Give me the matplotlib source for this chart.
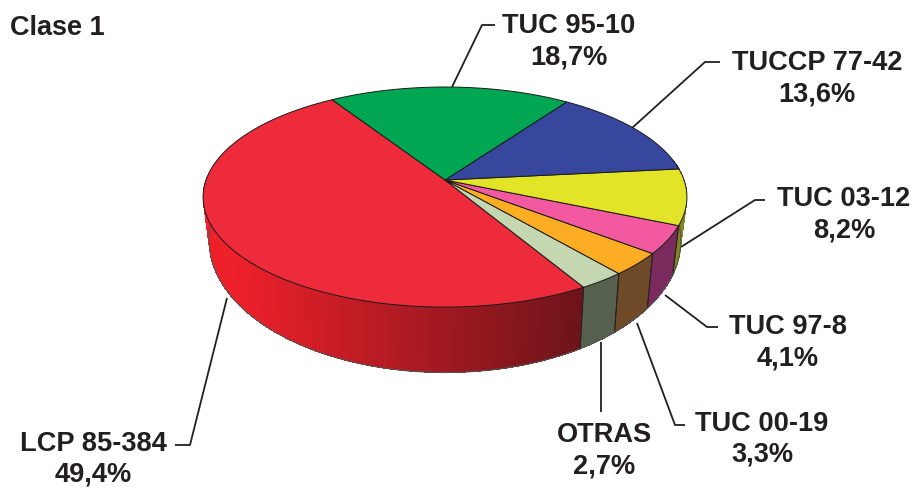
import numpy as np
import matplotlib
matplotlib.use("Agg")
import matplotlib.pyplot as plt
from matplotlib.patches import Polygon

plt.rcParams['font.family'] = ['Liberation Sans', 'DejaVu Sans']

names = ["LCP 85-384", "OTRAS", "TUC 00-19", "TUC 97-8", "TUC 03-12", "TUCCP 77-42", "TUC 95-10"]
values = [49.4, 2.7, 3.3, 4.1, 8.2, 13.6, 18.7]
labels = ["49,4%", "2,7%", "3,3%", "4,1%", "8,2%", "13,6%", "18,7%"]
top_colors = ["#ee2b3b", "#c4d7b0", "#fdad23", "#f359a0", "#e2e428", "#36479d", "#00a651"]
side_colors = [None, "#55604f", "#6f4a28", "#7a2a5c", "#85851f", "#1f2a60", "#006030"]
label_pos = [(93, 444), (604, 435), (762, 424), (788, 327), (844, 199), (817, 63), (569, 26)]
leaders = [
    [(227, 298), (190, 445), (175, 445)],
    [(601, 342), (601, 412)],
    [(637, 323), (675, 425), (685, 425)],
    [(665, 295), (707, 327), (718, 327)],
    [(681, 247), (755, 200), (765, 200)],
    [(632, 128), (705, 62), (720, 62)],
    [(452, 87), (482, 25), (495, 25)],
]

CX, CY, A, B, K = 445.0, 180.0, 239.0, 107.4, 0.155
START = 122.3


def top_xy(theta):
    t = np.radians(theta)
    X, Y = np.cos(t), np.sin(t)
    w = 1 + K * Y
    return CX + A * X / w, CY - B * Y / w


def bottom_xy(theta):
    x, y = top_xy(theta)
    return CX + 0.975 * (x - CX), CY + 40 + 1.2 * (y - CY)


fig = plt.figure(figsize=(9.14, 4.91), dpi=100)
ax = fig.add_axes([0, 0, 1, 1])
ax.set_xlim(0, 914)
ax.set_ylim(491, 0)
ax.axis("off")

edges = START + np.cumsum([0] + values) * 3.6

# side wall
VIS_LO, VIS_HI = 178.0, 372.0
for i in range(len(values)):
    a0, a1 = max(edges[i], VIS_LO), min(edges[i + 1], VIS_HI)
    if a1 <= a0:
        continue
    n = max(int((a1 - a0) / 0.75), 1)
    th = np.linspace(a0, a1, n + 1)
    for j in range(n):
        t0, t1 = th[j], th[j + 1]
        x0, y0 = top_xy(t0)
        x1, y1 = top_xy(t1)
        x2, y2 = bottom_xy(t1)
        x3, y3 = bottom_xy(t0)
        if side_colors[i] is None:
            f = np.clip(((x0 + x1) / 2 - 235) / (585 - 235), 0, 1)
            c = (np.array([238, 32, 42]) * (1 - f) + np.array([108, 20, 26]) * f) / 255
        else:
            c = side_colors[i]
        ax.add_patch(Polygon([(x0, y0), (x1, y1), (x2, y2), (x3, y3)], closed=True,
                             facecolor=c, edgecolor="none", lw=0, antialiased=False, zorder=2))
    for t in (a0, a1):
        if VIS_LO < t < VIS_HI:
            x0, y0 = top_xy(t)
            x1, y1 = bottom_xy(t)
            ax.plot([x0, x1], [y0, y1], color="#2a2020", lw=0.7, zorder=3)

# bottom outline
th = np.linspace(VIS_LO, VIS_HI, 300)
bx, by = bottom_xy(th)
ax.plot(bx, by, color="#555555", lw=0.8, zorder=3)

# top slices
for i in range(len(values)):
    th = np.linspace(edges[i], edges[i + 1], 120)
    x, y = top_xy(th)
    pts = [(CX, CY)] + list(zip(x, y))
    ax.add_patch(Polygon(pts, closed=True, facecolor=top_colors[i], edgecolor="#1a1a1a",
                         lw=0.7, joinstyle="round", zorder=4))

# leaders and labels
for i in range(len(values)):
    xs, ys = zip(*leaders[i])
    ax.plot(xs, ys, color="#231f20", lw=1.3, zorder=1, solid_capstyle="butt")
    x, y = label_pos[i]
    ax.text(x, y, names[i], ha="center", va="center", fontsize=19.6, fontweight="bold", color="#231f20")
    ax.text(x, y + 31, labels[i], ha="center", va="center", fontsize=19.6, fontweight="bold", color="#231f20")

ax.text(10, 28, "Clase 1", ha="left", va="center", fontsize=19.5, fontweight="bold", color="#231f20")

fig.savefig("out.png", dpi=100)
